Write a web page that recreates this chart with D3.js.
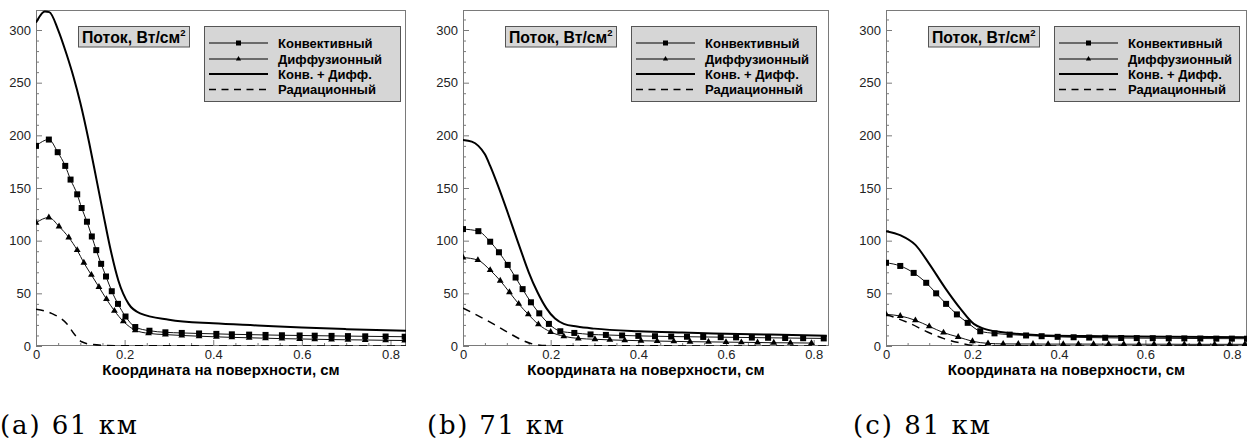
<!DOCTYPE html>
<html><head><meta charset="utf-8">
<script src="https://cdn.jsdelivr.net/npm/d3@7"></script>
<style>
html,body{margin:0;padding:0;background:#fff;}
svg{display:block;}
</style>
</head><body>
<script>
// ---------- texts & ticks ----------
const xTicks = [0, 0.2, 0.4, 0.6, 0.8];
const yTicks = [0, 50, 100, 150, 200, 250, 300];
const legendLabels = ["Конвективный", "Диффузионный", "Конв. + Дифф.", "Радиационный"];
const panelTitle = "Поток, Вт/см";
const panelTitleSup = "2";
const axisTitle = "Координата на поверхности, см";
const captions = ["(a) 61 км", "(b) 71 км", "(c) 81 км"];

// ---------- panel (a) 61 km ----------
const convXa = [0, 0.029, 0.049, 0.066, 0.078, 0.093, 0.103, 0.115, 0.126, 0.136, 0.147, 0.158, 0.171, 0.185, 0.202, 0.224, 0.256, 0.292, 0.329, 0.368, 0.407, 0.442, 0.481, 0.518, 0.555, 0.595, 0.629, 0.667, 0.704, 0.743, 0.789, 0.832];
const convYa = [190, 196, 184, 171, 158, 144, 131, 118, 104, 91, 78, 66, 52, 40, 28, 18, 14.5, 13, 12.4, 11.9, 11.5, 11.1, 10.8, 10.5, 10.2, 10, 9.8, 9.6, 9.4, 9.2, 9, 8.8];
const diffXa = [0, 0.029, 0.052, 0.074, 0.093, 0.108, 0.125, 0.142, 0.159, 0.177, 0.197, 0.224, 0.254, 0.292, 0.329, 0.368, 0.407, 0.442, 0.481, 0.518, 0.555, 0.595, 0.629, 0.667, 0.704, 0.743, 0.789, 0.832];
const diffYa = [117, 122, 113.5, 103, 91, 79, 67.5, 56, 44.5, 33.4, 23.4, 15, 12, 10.8, 10, 9.3, 8.7, 8.2, 7.8, 7.4, 7, 6.7, 6.4, 6.1, 5.9, 5.7, 5.4, 5.2];
const totXa = [0, 0.01, 0.02, 0.03, 0.05, 0.069, 0.085, 0.1, 0.12, 0.137, 0.152, 0.167, 0.186, 0.209, 0.235, 0.3, 0.4, 0.5, 0.6, 0.7, 0.835];
const totYa = [307, 314, 317.5, 317, 300, 277, 255, 231, 193, 157, 125, 94, 62, 40, 31, 25, 21.5, 19.5, 17.5, 16, 14.5];
const radXa = [0, 0.035, 0.069, 0.088, 0.103, 0.126, 0.16, 0.2, 0.835];
const radYa = [35, 31, 21.4, 10.4, 4, 1.5, 0.5, 0.2, 0];

// ---------- panel (b) 71 km ----------
const convXb = [0, 0.035, 0.062, 0.082, 0.102, 0.12, 0.136, 0.155, 0.174, 0.196, 0.222, 0.254, 0.291, 0.326, 0.363, 0.4, 0.438, 0.475, 0.511, 0.548, 0.588, 0.623, 0.659, 0.696, 0.735, 0.776, 0.823];
const convYb = [111, 109, 99, 89, 77, 65, 54, 41.5, 31, 21, 14, 12.4, 11, 10.5, 10, 9.6, 9.3, 9, 8.8, 8.6, 8.4, 8.2, 8, 7.8, 7.6, 7.4, 7.2];
const diffXb = [0, 0.034, 0.062, 0.085, 0.106, 0.127, 0.149, 0.172, 0.2, 0.23, 0.263, 0.301, 0.335, 0.369, 0.406, 0.443, 0.481, 0.518, 0.56, 0.6, 0.635, 0.672, 0.709, 0.747, 0.795];
const diffYb = [84, 81.5, 72, 62, 51, 40, 30, 20.6, 13.3, 9.2, 7.2, 6.4, 5.8, 5.4, 5, 4.7, 4.4, 4.1, 3.9, 3.7, 3.5, 3.3, 3.1, 3, 2.8];
const totXb = [0, 0.02, 0.035, 0.05, 0.062, 0.08, 0.1, 0.12, 0.136, 0.15, 0.17, 0.19, 0.21, 0.23, 0.26, 0.3, 0.4, 0.5, 0.6, 0.7, 0.83];
const totYb = [195.5, 194, 190, 182, 171, 152, 129, 105, 86, 70, 51, 36, 26, 21, 18.5, 16.5, 14, 12.7, 11.7, 10.8, 9.8];
const radXb = [0, 0.024, 0.069, 0.106, 0.136, 0.166, 0.2, 0.83];
const radYb = [36, 31, 21, 12, 5.4, 1.3, 0.3, 0];

// ---------- panel (c) 81 km ----------
const convXc = [0, 0.033, 0.064, 0.093, 0.116, 0.139, 0.164, 0.189, 0.218, 0.251, 0.286, 0.324, 0.36, 0.397, 0.434, 0.47, 0.507, 0.544, 0.58, 0.617, 0.654, 0.69, 0.727, 0.764, 0.8, 0.835];
const convYc = [79, 76, 69.4, 60, 50, 40, 30, 22, 14, 12, 10.8, 10, 9.3, 8.7, 8.3, 8, 7.8, 7.6, 7.5, 7.4, 7.3, 7.2, 7.1, 7, 7, 6.9];
const diffXc = [0, 0.033, 0.068, 0.1, 0.133, 0.167, 0.2, 0.236, 0.271, 0.306, 0.34, 0.375, 0.41, 0.445, 0.48, 0.515, 0.55, 0.585, 0.62, 0.655, 0.69, 0.725, 0.76, 0.795, 0.83];
const diffYc = [30, 28.5, 24.4, 18.7, 12.7, 8.6, 4.5, 2.5, 2, 1.9, 1.9, 1.8, 1.8, 1.8, 1.8, 1.7, 1.7, 1.7, 1.7, 1.7, 1.6, 1.6, 1.6, 1.6, 1.6];
const totXc = [0, 0.034, 0.068, 0.1, 0.137, 0.172, 0.203, 0.226, 0.265, 0.357, 0.5, 0.65, 0.835];
const totYc = [109, 105, 96, 78, 55, 35.5, 21, 16.5, 13.3, 10.3, 9.3, 8.8, 8.4];
const radXc = [0, 0.056, 0.096, 0.134, 0.172, 0.2, 0.25, 0.835];
const radYc = [30, 21.3, 13.3, 7, 2.9, 0.7, 0.1, 0];

// ---------- assemble ----------
const panelsData = [
  {conv: d3.zip(convXa, convYa), diff: d3.zip(diffXa, diffYa), tot: d3.zip(totXa, totYa), rad: d3.zip(radXa, radYa)},
  {conv: d3.zip(convXb, convYb), diff: d3.zip(diffXb, diffYb), tot: d3.zip(totXb, totYb), rad: d3.zip(radXb, radYb)},
  {conv: d3.zip(convXc, convYc), diff: d3.zip(diffXc, diffYc), tot: d3.zip(totXc, totYc), rad: d3.zip(radXc, radYc)}
];

// layout
const frameLeft = [36, 463, 886];
const frameRight = [406, 829, 1247];
const legendWidth = [196, 185, 185];
const captionX = [0, 427, 853];
const frameTop = 10, frameBottom = 346;
const xMax = 0.835, yMax = 319;
const axisGray = "#7a7a7a";
const sansFont = "'Liberation Sans', Arial, sans-serif";

const svg = d3.select("body").append("svg").attr("width", 1258).attr("height", 441);

panelsData.forEach((pd, i) => {
  const L = frameLeft[i], R = frameRight[i];
  const x = d3.scaleLinear().domain([0, xMax]).range([L, R]);
  const y = d3.scaleLinear().domain([0, yMax]).range([frameBottom, frameTop]);
  const g = svg.append("g");

  const clipId = "clip" + i;
  svg.append("clipPath").attr("id", clipId).append("rect")
    .attr("x", L).attr("y", frameTop).attr("width", R - L).attr("height", frameBottom - frameTop);

  // minor ticks
  const xMinor = d3.range(0, xMax, 0.05).filter(v => Math.abs(v / 0.2 - Math.round(v / 0.2)) > 1e-6);
  const yMinor = d3.range(0, yMax, 10).filter(v => v % 50 !== 0);
  g.append("g").attr("transform", `translate(0,${frameBottom})`)
    .call(d3.axisBottom(x).tickValues(xMinor).tickSize(-3).tickFormat(""))
    .call(a => a.select(".domain").remove())
    .call(a => a.selectAll("line").attr("stroke", axisGray));
  g.append("g").attr("transform", `translate(${L},0)`)
    .call(d3.axisLeft(y).tickValues(yMinor).tickSize(-3).tickFormat(""))
    .call(a => a.select(".domain").remove())
    .call(a => a.selectAll("line").attr("stroke", axisGray));

  // major ticks
  g.append("g").attr("transform", `translate(0,${frameBottom})`)
    .call(d3.axisBottom(x).tickValues(xTicks).tickSize(-6).tickPadding(4).tickFormat(d => d === 0 ? "0" : d3.format(".1f")(d)))
    .call(a => a.select(".domain").remove())
    .call(a => a.selectAll("line").attr("stroke", axisGray))
    .call(a => a.selectAll("text").attr("font-family", sansFont).attr("font-size", 13).attr("fill", "#222"));
  g.append("g").attr("transform", `translate(${L},0)`)
    .call(d3.axisLeft(y).tickValues(yTicks).tickSize(-6).tickPadding(5).tickFormat(d3.format("d")))
    .call(a => a.select(".domain").remove())
    .call(a => a.selectAll("line").attr("stroke", axisGray))
    .call(a => a.selectAll("text").attr("font-family", sansFont).attr("font-size", 13).attr("fill", "#222"));

  // frame
  g.append("rect").attr("x", L + 0.5).attr("y", frameTop + 0.5)
    .attr("width", R - L - 1).attr("height", frameBottom - frameTop - 1)
    .attr("fill", "none").attr("stroke", axisGray).attr("stroke-width", 1);

  // curves
  const line = d3.line().x(d => x(d[0])).y(d => y(d[1])).curve(d3.curveMonotoneX);
  const plot = g.append("g").attr("clip-path", `url(#${clipId})`);
  plot.append("path").attr("d", line(pd.rad)).attr("fill", "none").attr("stroke", "#000")
    .attr("stroke-width", 1.5).attr("stroke-dasharray", "8,6");
  plot.append("path").attr("d", line(pd.diff)).attr("fill", "none").attr("stroke", "#111").attr("stroke-width", 1);
  plot.append("path").attr("d", line(pd.conv)).attr("fill", "none").attr("stroke", "#111").attr("stroke-width", 1);
  plot.append("path").attr("d", line(pd.tot)).attr("fill", "none").attr("stroke", "#000").attr("stroke-width", 2);

  // markers
  const tri = d3.symbol().type(d3.symbolTriangle).size(20);
  plot.selectAll(".tri").data(pd.diff).join("path").attr("class", "tri")
    .attr("d", tri).attr("transform", d => `translate(${x(d[0])},${y(d[1])})`).attr("fill", "#000");
  plot.selectAll(".sq").data(pd.conv).join("rect").attr("class", "sq")
    .attr("x", d => x(d[0]) - 3).attr("y", d => y(d[1]) - 3)
    .attr("width", 6).attr("height", 6).attr("fill", "#000");

  // title box
  const tb = g.append("g").attr("transform", `translate(${L + 42},26)`);
  tb.append("rect").attr("x", 0.5).attr("y", 0.5).attr("width", 111).attr("height", 20.5)
    .attr("fill", "#d6d6d6").attr("stroke", "#555");
  const tt = tb.append("text").attr("x", 4).attr("y", 16.5).attr("font-family", sansFont)
    .attr("font-weight", "bold").attr("font-size", 15.8).attr("fill", "#000");
  tt.append("tspan").text(panelTitle);
  tt.append("tspan").attr("font-size", 9.5).attr("dy", -7).text(panelTitleSup);

  // legend
  const lg = g.append("g").attr("transform", `translate(${L + 168},26)`);
  lg.append("rect").attr("x", 0.5).attr("y", 0.5).attr("width", legendWidth[i]).attr("height", 75)
    .attr("fill", "#d6d6d6").attr("stroke", "#555");
  const rows = [17, 33, 48, 63.5];
  legendLabels.forEach((lab, k) => {
    const ry = rows[k];
    const ln = lg.append("line").attr("x1", 5).attr("x2", 64).attr("y1", ry).attr("y2", ry).attr("stroke", "#000");
    if (k === 0 || k === 1) ln.attr("stroke-width", 1);
    if (k === 2) ln.attr("stroke-width", 2);
    if (k === 3) ln.attr("stroke-width", 1.5).attr("stroke-dasharray", "7,5.5");
    if (k === 0) lg.append("rect").attr("x", 32).attr("y", ry - 2.5).attr("width", 5).attr("height", 5).attr("fill", "#000");
    if (k === 1) lg.append("path").attr("d", d3.symbol().type(d3.symbolTriangle).size(12)())
      .attr("transform", `translate(34.5,${ry})`).attr("fill", "#000");
    lg.append("text").attr("x", 74).attr("y", ry + 4.5).attr("font-family", sansFont)
      .attr("font-weight", "bold").attr("font-size", 13).attr("fill", "#000").text(lab);
  });

  // axis title
  g.append("text").attr("x", (L + R) / 2).attr("y", 375).attr("text-anchor", "middle")
    .attr("font-family", sansFont).attr("font-weight", "bold").attr("font-size", 15).attr("fill", "#000")
    .text(axisTitle);

  // caption
  g.append("text").attr("x", captionX[i]).attr("y", 434)
    .attr("font-family", "'DejaVu Serif', serif").attr("font-size", 26).attr("fill", "#000")
    .attr("textLength", 137).attr("lengthAdjust", "spacing")
    .text(captions[i]);
});
</script>
</body></html>
